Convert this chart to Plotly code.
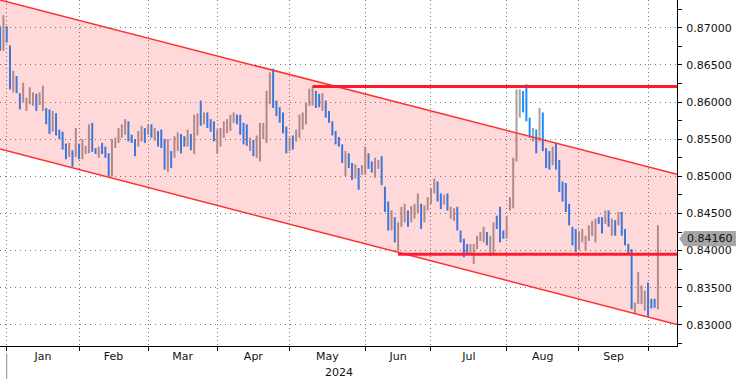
import pandas as pd
import plotly.graph_objects as go

# ---------------- data (daily bars) ----------------
dates = [d for d in pd.bdate_range("2023-12-28", "2024-10-04") if d != pd.Timestamp("2024-01-01")]

open_ = [
    0.8698, 0.8675, 0.8700, 0.8672, 0.8620, 0.8633, 0.8610, 0.8602, 0.8592, 0.8600,
    0.8598, 0.8608, 0.8598, 0.8592, 0.8590, 0.8586, 0.8563, 0.8582, 0.8561, 0.8557,
    0.8541, 0.8528, 0.8533, 0.8529, 0.8542, 0.8526, 0.8532, 0.8534, 0.8568, 0.8537,
    0.8527, 0.8543, 0.8538, 0.8529, 0.8503, 0.8540, 0.8547, 0.8554, 0.8558, 0.8572,
    0.8554, 0.8548, 0.8542, 0.8549, 0.8563, 0.8558, 0.8568, 0.8550, 0.8559, 0.8560,
    0.8547, 0.8512, 0.8532, 0.8527, 0.8537, 0.8555, 0.8552, 0.8542, 0.8555, 0.8535,
    0.8558, 0.8598, 0.8572, 0.8584, 0.8575, 0.8571, 0.8533, 0.8543, 0.8555, 0.8560,
    0.8563, 0.8574, 0.8581, 0.8580, 0.8569, 0.8567, 0.8536, 0.8547, 0.8528, 0.8523,
    0.8553, 0.8548, 0.8600, 0.8640, 0.8600, 0.8591, 0.8583, 0.8564, 0.8536, 0.8553,
    0.8549, 0.8555, 0.8566, 0.8573, 0.8597, 0.8598, 0.8613, 0.8609, 0.8591, 0.8600,
    0.8586, 0.8572, 0.8559, 0.8551, 0.8541, 0.8503, 0.8529, 0.8516, 0.8499, 0.8509,
    0.8504, 0.8505, 0.8529, 0.8518, 0.8501, 0.8512, 0.8524, 0.8484, 0.8463, 0.8430,
    0.8443, 0.8402, 0.8435, 0.8441, 0.8452, 0.8440, 0.8445, 0.8453, 0.8460, 0.8440,
    0.8456, 0.8465, 0.8479, 0.8491, 0.8475, 0.8464, 0.8475, 0.8445, 0.8442, 0.8456,
    0.8425, 0.8414, 0.8407, 0.8397, 0.8386, 0.8404, 0.8415, 0.8414, 0.8423, 0.8396,
    0.8398, 0.8445, 0.8455, 0.8425, 0.8418, 0.8456, 0.8460, 0.8523, 0.8582, 0.8612,
    0.8619, 0.8577, 0.8549, 0.8560, 0.8550, 0.8583, 0.8536, 0.8532, 0.8517, 0.8542,
    0.8519, 0.8491, 0.8488, 0.8460, 0.8430, 0.8426, 0.8403, 0.8413, 0.8402, 0.8415,
    0.8422, 0.8414, 0.8444, 0.8443, 0.8438, 0.8452, 0.8422, 0.8439, 0.8436, 0.8449,
    0.8427, 0.8408, 0.8398, 0.8318, 0.8330, 0.8330, 0.8322, 0.8352, 0.8333, 0.8333, 0.8325,
]
high = [
    0.8702, 0.8717, 0.8702, 0.8676, 0.8642, 0.8635, 0.8612, 0.8626, 0.8606, 0.8620,
    0.8613, 0.8611, 0.8613, 0.8622, 0.8592, 0.8590, 0.8588, 0.8585, 0.8563, 0.8560,
    0.8544, 0.8545, 0.8535, 0.8565, 0.8544, 0.8550, 0.8541, 0.8570, 0.8572, 0.8538,
    0.8540, 0.8545, 0.8540, 0.8531, 0.8550, 0.8552, 0.8565, 0.8570, 0.8577, 0.8574,
    0.8556, 0.8550, 0.8561, 0.8568, 0.8565, 0.8570, 0.8570, 0.8565, 0.8561, 0.8563,
    0.8550, 0.8550, 0.8534, 0.8554, 0.8559, 0.8557, 0.8554, 0.8563, 0.8557, 0.8583,
    0.8585, 0.8602, 0.8586, 0.8586, 0.8577, 0.8574, 0.8563, 0.8565, 0.8574, 0.8577,
    0.8583, 0.8586, 0.8583, 0.8583, 0.8572, 0.8570, 0.8552, 0.8549, 0.8555, 0.8572,
    0.8572, 0.8615, 0.8640, 0.8645, 0.8602, 0.8593, 0.8586, 0.8567, 0.8552, 0.8555,
    0.8563, 0.8583, 0.8586, 0.8599, 0.8618, 0.8621, 0.8615, 0.8611, 0.8612, 0.8602,
    0.8588, 0.8574, 0.8561, 0.8553, 0.8543, 0.8534, 0.8531, 0.8518, 0.8516, 0.8511,
    0.8515, 0.8540, 0.8531, 0.8520, 0.8525, 0.8522, 0.8527, 0.8486, 0.8466, 0.8454,
    0.8445, 0.8438, 0.8459, 0.8463, 0.8454, 0.8460, 0.8463, 0.8477, 0.8463, 0.8461,
    0.8472, 0.8484, 0.8497, 0.8493, 0.8477, 0.8475, 0.8477, 0.8459, 0.8457, 0.8459,
    0.8427, 0.8416, 0.8409, 0.8409, 0.8409, 0.8420, 0.8425, 0.8432, 0.8425, 0.8420,
    0.8438, 0.8447, 0.8459, 0.8427, 0.8447, 0.8472, 0.8525, 0.8617, 0.8617, 0.8615,
    0.8624, 0.8579, 0.8565, 0.8563, 0.8592, 0.8586, 0.8538, 0.8534, 0.8540, 0.8545,
    0.8522, 0.8493, 0.8491, 0.8463, 0.8432, 0.8429, 0.8426, 0.8429, 0.8420, 0.8434,
    0.8440, 0.8443, 0.8445, 0.8445, 0.8454, 0.8454, 0.8443, 0.8441, 0.8452, 0.8452,
    0.8429, 0.8409, 0.8402, 0.8330, 0.8371, 0.8353, 0.8346, 0.8357, 0.8335, 0.8335, 0.8434,
]
low = [
    0.8669, 0.8669, 0.8680, 0.8617, 0.8613, 0.8612, 0.8590, 0.8599, 0.8588, 0.8597,
    0.8595, 0.8588, 0.8596, 0.8588, 0.8570, 0.8557, 0.8560, 0.8555, 0.8550, 0.8536,
    0.8523, 0.8526, 0.8513, 0.8526, 0.8523, 0.8523, 0.8530, 0.8531, 0.8533, 0.8530,
    0.8525, 0.8530, 0.8525, 0.8500, 0.8500, 0.8538, 0.8545, 0.8552, 0.8556, 0.8547,
    0.8545, 0.8527, 0.8540, 0.8547, 0.8545, 0.8556, 0.8552, 0.8548, 0.8540, 0.8538,
    0.8509, 0.8506, 0.8511, 0.8525, 0.8534, 0.8531, 0.8540, 0.8540, 0.8535, 0.8530,
    0.8555, 0.8568, 0.8570, 0.8565, 0.8560, 0.8547, 0.8530, 0.8540, 0.8552, 0.8558,
    0.8561, 0.8572, 0.8570, 0.8556, 0.8543, 0.8541, 0.8534, 0.8527, 0.8525, 0.8520,
    0.8550, 0.8545, 0.8597, 0.8592, 0.8581, 0.8572, 0.8558, 0.8531, 0.8534, 0.8536,
    0.8547, 0.8552, 0.8563, 0.8570, 0.8595, 0.8595, 0.8592, 0.8593, 0.8588, 0.8579,
    0.8572, 0.8555, 0.8543, 0.8540, 0.8518, 0.8500, 0.8511, 0.8495, 0.8497, 0.8482,
    0.8502, 0.8502, 0.8510, 0.8505, 0.8498, 0.8510, 0.8488, 0.8452, 0.8427, 0.8427,
    0.8411, 0.8399, 0.8432, 0.8438, 0.8432, 0.8438, 0.8443, 0.8450, 0.8429, 0.8438,
    0.8454, 0.8463, 0.8477, 0.8466, 0.8456, 0.8462, 0.8454, 0.8443, 0.8440, 0.8427,
    0.8411, 0.8391, 0.8395, 0.8395, 0.8382, 0.8402, 0.8413, 0.8411, 0.8407, 0.8393,
    0.8395, 0.8429, 0.8411, 0.8416, 0.8416, 0.8454, 0.8457, 0.8520, 0.8579, 0.8586,
    0.8574, 0.8552, 0.8547, 0.8531, 0.8547, 0.8534, 0.8511, 0.8509, 0.8515, 0.8509,
    0.8479, 0.8466, 0.8452, 0.8434, 0.8407, 0.8398, 0.8401, 0.8411, 0.8400, 0.8413,
    0.8420, 0.8411, 0.8436, 0.8423, 0.8436, 0.8432, 0.8420, 0.8420, 0.8434, 0.8420,
    0.8407, 0.8396, 0.8321, 0.8316, 0.8328, 0.8328, 0.8319, 0.8312, 0.8322, 0.8323, 0.8321,
]
close = [
    0.8675, 0.8700, 0.8684, 0.8622, 0.8635, 0.8615, 0.8595, 0.8620, 0.8603, 0.8616,
    0.8610, 0.8592, 0.8610, 0.8618, 0.8573, 0.8561, 0.8584, 0.8558, 0.8552, 0.8539,
    0.8526, 0.8542, 0.8516, 0.8560, 0.8526, 0.8546, 0.8539, 0.8566, 0.8536, 0.8532,
    0.8538, 0.8532, 0.8527, 0.8503, 0.8546, 0.8550, 0.8562, 0.8567, 0.8574, 0.8550,
    0.8547, 0.8530, 0.8558, 0.8565, 0.8548, 0.8568, 0.8554, 0.8563, 0.8542, 0.8541,
    0.8513, 0.8545, 0.8514, 0.8551, 0.8556, 0.8534, 0.8542, 0.8560, 0.8538, 0.8578,
    0.8582, 0.8571, 0.8584, 0.8568, 0.8563, 0.8550, 0.8559, 0.8562, 0.8571, 0.8575,
    0.8580, 0.8584, 0.8572, 0.8559, 0.8546, 0.8544, 0.8549, 0.8530, 0.8552, 0.8568,
    0.8569, 0.8610, 0.8635, 0.8596, 0.8584, 0.8575, 0.8561, 0.8534, 0.8549, 0.8539,
    0.8561, 0.8580, 0.8583, 0.8596, 0.8615, 0.8617, 0.8595, 0.8596, 0.8609, 0.8582,
    0.8574, 0.8558, 0.8546, 0.8542, 0.8521, 0.8530, 0.8514, 0.8498, 0.8513, 0.8485,
    0.8512, 0.8536, 0.8513, 0.8507, 0.8522, 0.8520, 0.8491, 0.8455, 0.8430, 0.8451,
    0.8414, 0.8435, 0.8456, 0.8460, 0.8435, 0.8457, 0.8460, 0.8474, 0.8432, 0.8458,
    0.8469, 0.8481, 0.8494, 0.8469, 0.8459, 0.8472, 0.8457, 0.8456, 0.8454, 0.8430,
    0.8413, 0.8394, 0.8397, 0.8407, 0.8405, 0.8417, 0.8423, 0.8429, 0.8409, 0.8417,
    0.8435, 0.8431, 0.8414, 0.8418, 0.8444, 0.8469, 0.8520, 0.8610, 0.8613, 0.8589,
    0.8577, 0.8555, 0.8562, 0.8534, 0.8588, 0.8537, 0.8514, 0.8512, 0.8537, 0.8512,
    0.8482, 0.8469, 0.8455, 0.8437, 0.8410, 0.8401, 0.8423, 0.8426, 0.8417, 0.8431,
    0.8437, 0.8440, 0.8438, 0.8426, 0.8451, 0.8435, 0.8440, 0.8423, 0.8449, 0.8423,
    0.8410, 0.8398, 0.8325, 0.8328, 0.8366, 0.8350, 0.8343, 0.8315, 0.8324, 0.8325, 0.8416,
]

month_labels = ["Jan", "Feb", "Mar", "Apr", "May", "Jun", "Jul", "Aug", "Sep"]
year_label = "2024"
y_tick_values = [0.830, 0.835, 0.840, 0.845, 0.850, 0.855, 0.860, 0.865, 0.870]

# drawn levels
resistance_level = 0.8621
resistance_from = "2024-05-10"
support_level = 0.8395
support_from = "2024-06-17"

# price channel (edges of the view)
x_view = [-2.04, 203.8]
channel_top = [0.87374, 0.85027]
channel_bottom = [0.85367, 0.83003]
y_view = [0.82715, 0.87374]

# ---------------- positions on a trading-day axis ----------------
first_2024 = next(k for k, d in enumerate(dates) if d.year == 2024)
pos = [k - first_2024 for k in range(len(dates))]
pos_of = {d.strftime("%Y-%m-%d"): p for d, p in zip(dates, pos)}

month_start = []
for m in range(1, 11):
    month_start.append(next(p for d, p in zip(dates, pos) if d.year == 2024 and d.month == m))
month_mid = [(month_start[k] + month_start[k + 1]) / 2 for k in range(len(month_labels))]

FONT = "DejaVu Sans"
GRID = "#7a7a7a"
RED = "#ff1a2e"

fig = go.Figure()
fig.add_trace(go.Ohlc(
    x=pos, open=open_, high=high, low=low, close=close,
    increasing=dict(line=dict(color="#a3a3a3", width=2)),
    decreasing=dict(line=dict(color="#1e8cff", width=2)),
    tickwidth=0, hoverinfo="skip", showlegend=False,
))
# arrow-shaped major tick marks on the price axis
fig.add_trace(go.Scatter(
    x=[x_view[1] + 1.0] * len(y_tick_values), y=y_tick_values, mode="markers",
    marker=dict(symbol="triangle-right", size=7, color="black", line=dict(width=0)),
    cliponaxis=False, hoverinfo="skip", showlegend=False,
))

shapes = []
# channel fill (drawn above bars so that they are tinted)
shapes.append(dict(
    type="path", xref="x", yref="y", layer="above",
    path=(f"M {x_view[0]},{channel_top[0]} L {x_view[1]},{channel_top[1]} "
          f"L {x_view[1]},{channel_bottom[1]} L {x_view[0]},{channel_bottom[0]} Z"),
    fillcolor="rgba(255,0,0,0.15)", line=dict(width=0),
))
shapes.append(dict(type="line", xref="x", yref="y", layer="above",
                   x0=x_view[0], y0=channel_top[0], x1=x_view[1], y1=channel_top[1],
                   line=dict(color="#ff3030", width=1.5)))
shapes.append(dict(type="line", xref="x", yref="y", layer="above",
                   x0=x_view[0], y0=channel_bottom[0], x1=x_view[1], y1=channel_bottom[1],
                   line=dict(color="#ff3030", width=1.5)))
# horizontal levels
shapes.append(dict(type="line", xref="x", yref="y", layer="above",
                   x0=pos_of[resistance_from], x1=x_view[1], y0=resistance_level, y1=resistance_level,
                   line=dict(color=RED, width=3)))
shapes.append(dict(type="line", xref="x", yref="y", layer="above",
                   x0=pos_of[support_from], x1=x_view[1], y0=support_level, y1=support_level,
                   line=dict(color=RED, width=3)))
# year separator below the axis
shapes.append(dict(type="line", xref="x", yref="paper", x0=month_start[0], x1=month_start[0],
                   y0=-0.022, y1=-0.095, line=dict(color="#8a8a8a", width=1)))

# last price marker on the right axis
last = close[-1]
half = 0.00102
shapes.append(dict(
    type="path", xref="paper", yref="y", layer="above",
    path=(f"M 1.0034,{last} L 1.0107,{last + half} L 1.09,{last + half} "
          f"L 1.09,{last - half} L 1.0107,{last - half} Z"),
    fillcolor="#a6a6a6", line=dict(width=0),
))

annotations = [
    dict(text=year_label, xref="paper", yref="paper", x=0.5, y=-0.076, showarrow=False,
         xanchor="center", yanchor="middle", font=dict(family=FONT, size=11, color="#111")),
    dict(text=f"{last:.5f}", xref="paper", yref="y", x=1.0125, y=last, showarrow=False,
         xanchor="left", yanchor="middle", font=dict(family=FONT, size=11, color="#111")),
]

fig.update_layout(
    width=736, height=379,
    margin=dict(l=0, r=59, t=0, b=33, pad=0),
    paper_bgcolor="white", plot_bgcolor="white",
    showlegend=False, font=dict(family=FONT, size=11, color="#111"),
    shapes=shapes, annotations=annotations,
    xaxis=dict(
        range=x_view, rangeslider=dict(visible=False), automargin=False,
        tickmode="array", tickvals=month_mid, ticktext=month_labels, ticks="",
        showgrid=False, zeroline=False, showline=True, linecolor="black", linewidth=1,
        tickfont=dict(family=FONT, size=11, color="#111"),
        minor=dict(tickmode="array", tickvals=month_start, ticks="outside", ticklen=4,
                   tickcolor="black", tickwidth=1, showgrid=True, gridcolor=GRID,
                   griddash="1px,3px", gridwidth=1),
        fixedrange=True,
    ),
    yaxis=dict(
        side="right", range=y_view, automargin=False,
        tickmode="array", tickvals=y_tick_values, tickformat=".5f",
        ticks="outside", ticklen=6, tickwidth=1, tickcolor="rgba(0,0,0,0)",
        showgrid=True, gridcolor=GRID, griddash="1px,4px", gridwidth=1,
        zeroline=False, showline=True, linecolor="black", linewidth=1,
        tickfont=dict(family=FONT, size=11, color="#111"),
        minor=dict(dtick=0.0025, tick0=0.8275, ticks="outside", ticklen=4, tickwidth=1,
                   tickcolor="black", showgrid=False),
        fixedrange=True,
    ),
)

fig.write_html(
    "out.html",
    config={"displayModeBar": False, "staticPlot": True},
    post_script="document.body.style.margin='0px'; document.body.style.overflow='hidden';",
)
